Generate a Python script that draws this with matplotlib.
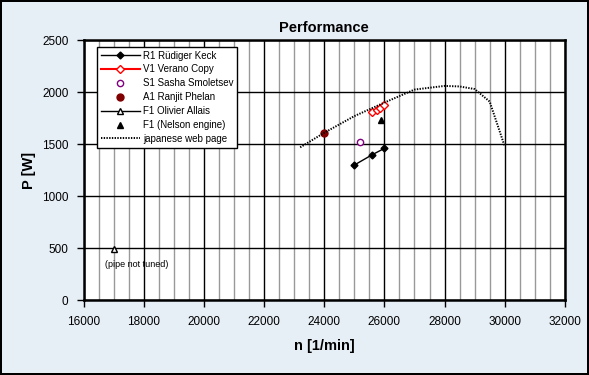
import numpy as np
import matplotlib
matplotlib.use("Agg")
import matplotlib.pyplot as plt
from matplotlib.ticker import MultipleLocator

plt.rcParams["font.family"] = ["Liberation Sans", "DejaVu Sans"]

# data
r1_n = [25000, 25600, 26000]
r1_p = [1300, 1400, 1460]

v1_n = [25600, 25750, 25850, 26000]
v1_p = [1810, 1830, 1850, 1880]

s1_n = [25200]
s1_p = [1520]

a1_n = [24000]
a1_p = [1610]

f1_allais_n = [17000]
f1_allais_p = [490]

f1_nelson_n = [25900]
f1_nelson_p = [1730]

jp_n = [23200, 24000, 25000, 26000, 27000, 28000, 28500, 29000, 29500, 30000]
jp_p = [1470, 1610, 1770, 1900, 2025, 2060, 2055, 2030, 1910, 1480]

bg = "#E6EEF6"
fig = plt.figure(figsize=(5.89, 3.75), dpi=100, facecolor=bg,
                 edgecolor="black", linewidth=1.5)
ax = fig.add_axes([0.142, 0.199, 0.817, 0.694])

ax.plot(r1_n, r1_p, color="black", lw=1, marker="D", ms=3.5,
        label="R1 Rüdiger Keck")
ax.plot(v1_n, v1_p, color="red", lw=1.5, marker="D", ms=4,
        mfc="white", mec="red", label="V1 Verano Copy")
ax.plot(s1_n, s1_p, ls="none", marker="o", ms=4.5, mfc="white",
        mec="#800080", label="S1 Sasha Smoletsev")
ax.plot(a1_n, a1_p, ls="none", marker="o", ms=5, color="#800000",
        label="A1 Ranjit Phelan")
ax.plot(f1_allais_n, f1_allais_p, color="black", lw=1, marker="^", ms=4.5,
        mfc="white", mec="black", label="F1 Olivier Allais")
ax.plot(f1_nelson_n, f1_nelson_p, ls="none", marker="^", ms=5,
        color="black", label="F1 (Nelson engine)")
ax.plot(jp_n, jp_p, color="black", lw=1.4, ls=(0, (0.7, 0.7)),
        label="japanese web page")

ax.text(16700, 320, "(pipe not tuned)", fontsize=6.5)

ax.set_xlim(16000, 32000)
ax.set_ylim(0, 2500)
ax.xaxis.set_major_locator(MultipleLocator(2000))
ax.xaxis.set_minor_locator(MultipleLocator(500))
ax.yaxis.set_major_locator(MultipleLocator(500))
ax.grid(which="minor", axis="x", color="#999999", lw=1)
ax.grid(which="major", axis="x", color="black", lw=1)
ax.grid(which="major", axis="y", color="black", lw=1)
ax.set_axisbelow(True)
ax.tick_params(which="minor", length=0)
ax.tick_params(which="major", direction="out", length=5, width=1,
               labelsize=8.5, pad=6)
for s in ax.spines.values():
    s.set_linewidth(1.8)

ax.set_title("Performance", fontsize=10.5, fontweight="bold", pad=6)
ax.set_xlabel("n [1/min]", fontsize=10.5, fontweight="bold", labelpad=8)
ax.set_ylabel("P [W]", fontsize=10.5, fontweight="bold", labelpad=4)

leg = ax.legend(loc="upper left", bbox_to_anchor=(0.028, 0.975),
                fontsize=7, frameon=True, fancybox=False, framealpha=1,
                edgecolor="black", handlelength=4.0, handletextpad=0.3,
                labelspacing=0.4, borderpad=0.4, borderaxespad=0)
leg.get_frame().set_linewidth(1)

fig.savefig("out.png", dpi=100, facecolor=bg, edgecolor="black")
